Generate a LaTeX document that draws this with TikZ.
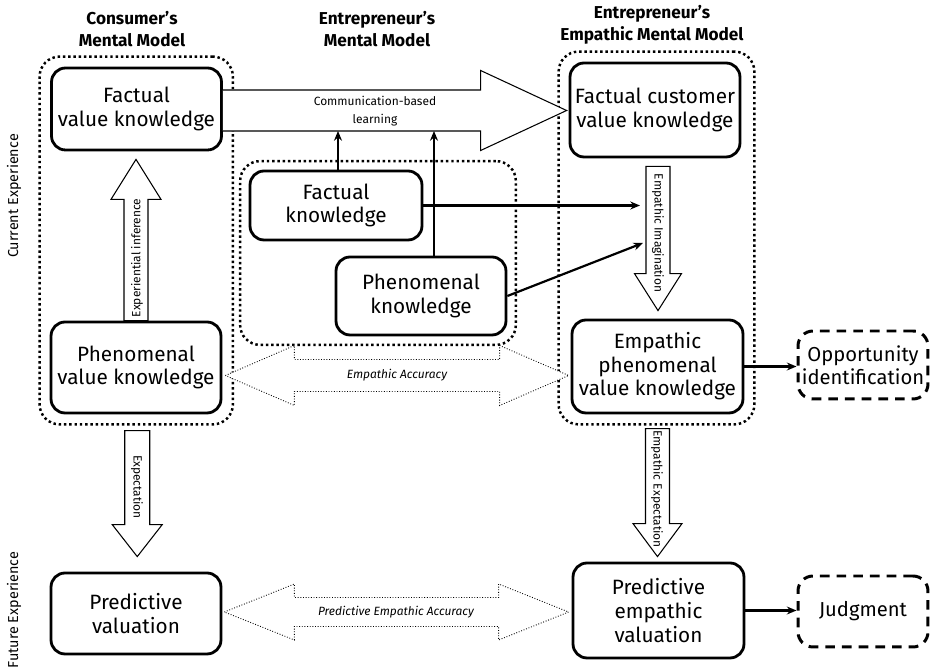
\documentclass[tikz,border=0pt]{standalone}
\usepackage{fontspec}
\setmainfont{Fira Sans}
\usetikzlibrary{arrows.meta,calc,fit}

\newcommand{\fatright}[6][]{%
  \draw[#1] let \p1=(#2), \p2=(#3) in
    (\x1,\y1+#4) -- (\x2-#6,\y1+#4) -- (\x2-#6,\y1+#5) -- (\x2,\y1)
    -- (\x2-#6,\y1-#5) -- (\x2-#6,\y1-#4) -- (\x1,\y1-#4);}
\newcommand{\fatvert}[6][]{%
  \draw[#1] let \p1=(#2), \p2=(#3), \n1={\y2+(#6)} in
    (\x1-#4,\y1) -- (\x1-#4,\n1) -- (\x1-#5,\n1) -- (\x1,\y2)
    -- (\x1+#5,\n1) -- (\x1+#4,\n1) -- (\x1+#4,\y1) -- cycle;}
\newcommand{\fatboth}[6][]{%
  \draw[#1] let \p1=(#2), \p2=(#3) in
    (\x1,\y1) -- (\x1+#6,\y1+#5) -- (\x1+#6,\y1+#4) -- (\x2-#6,\y1+#4)
    -- (\x2-#6,\y1+#5) -- (\x2,\y1) -- (\x2-#6,\y1-#5) -- (\x2-#6,\y1-#4)
    -- (\x1+#6,\y1-#4) -- (\x1+#6,\y1-#5) -- cycle;}

\begin{document}
\begin{tikzpicture}[x=0.02cm,y=-0.02cm,
  box/.style={draw,line width=1.6pt,rounded corners=0.28cm,align=center,
    minimum width=3.4cm,inner sep=0pt,font=\fontsize{11.8}{13.4}\selectfont},
  dashbox/.style={draw,line width=1.7pt,dash pattern=on 5.5pt off 4pt,
    rounded corners=0.3cm,align=center,minimum width=2.6cm,inner sep=0pt,
    font=\fontsize{11.5}{13.3}\selectfont},
  group/.style={draw,line width=1.4pt,dash pattern=on 1.4pt off 1.6pt,
    rounded corners=0.4cm,inner sep=0.2cm},
  head/.style={align=center,font=\fontsize{9.8}{12.5}\selectfont\bfseries},
  side/.style={rotate=90,font=\fontsize{8.2}{10}\selectfont},
  small/.style={align=center,inner sep=0pt,font=\fontsize{6.8}{10}\selectfont},
  blk/.style={line width=0.6pt,fill=white},
  dotarr/.style={line width=0.5pt,densely dotted,fill=white},
  conn/.style={line width=1.25pt,-{Stealth[length=5.5pt,width=4.5pt]}}]
\useasboundingbox (0,0) rectangle (931,668);

\node[head] (hcons) at (132,29) {Consumer’s\\Mental Model};
\node[head] (hentr) at (377,29) {Entrepreneur’s\\Mental Model};
\node[head] (hemp) at (652,25) {Entrepreneur’s\\Empathic Mental Model};
\node[side] (cur) at (14,196) {Current Experience};
\node[side] (fut) at (14,610) {Future Experience};

\node[box,minimum height=1.64cm] (fvk) at (136.5,109) {Factual\\value knowledge};
\node[box,minimum height=1.82cm] (pvk) at (136,367.5) {Phenomenal\\value knowledge};
\node[box,minimum height=1.62cm] (pv) at (136,613.5) {Predictive\\valuation};
\node[box,minimum width=3.44cm,minimum height=1.38cm] (fk) at (336,205.5) {Factual\\knowledge};
\node[box,minimum height=1.56cm] (pk) at (421,296) {Phenomenal\\knowledge};
\node[box,minimum height=1.88cm] (fcvk) at (655,110) {Factual customer\\value knowledge};
\node[box,minimum width=3.42cm,minimum height=1.86cm] (epvk) at (657.5,366.5) {Empathic\\phenomenal\\value knowledge};
\node[box,minimum width=3.42cm,minimum height=1.9cm] (pev) at (658.5,610.5) {Predictive\\empathic\\valuation};
\node[dashbox,minimum height=1.36cm] (opp) at (863,365) {Opportunity\\identification};
\node[dashbox,minimum height=1.42cm] (jud) at (863,611.5) {Judgment};

\node[group,fit=(fvk)(pvk)] (cons) {};
\node[group,inner sep=0.17cm,fit=(fk)(pk)] (entr) {};
\node[group,fit=(fcvk)(epvk)] (emp) {};

\fatright[blk]{$(fvk.east)+(0,1.5)$}{$(fcvk.west)+(-2,0)$}{0.41cm}{0.8cm}{1.72cm}
\fatvert[blk]{pvk.north}{$(fvk.south)+(0,8)$}{0.24cm}{0.5cm}{-0.8cm}
\fatvert[blk]{$(cons.south)+(1,5)$}{$(pv.north)+(0,-15)$}{0.25cm}{0.5cm}{0.64cm}
\fatvert[blk]{$(fcvk.south)+(3,8)$}{$(epvk.north)+(0,-8)$}{0.24cm}{0.47cm}{0.74cm}
\fatvert[blk]{$(emp.south)+(1,3)$}{$(pev.north)+(0,-5)$}{0.24cm}{0.49cm}{0.66cm}
\fatboth[dotarr]{$(pvk.east)+(3,8)$}{$(epvk.west)+(-2,8)$}{0.32cm}{0.6cm}{1.38cm}
\fatboth[dotarr]{$(pv.east)+(2,-1.5)$}{$(pev.west)+(-3,0)$}{0.29cm}{0.56cm}{1.4cm}

\node[small] (comm) at (375,111) {Communication-based\\learning};
\node[small,rotate=90] (expinf) at (137,258) {Experiential inference};
\node[small,rotate=-90] (expect) at (137,487) {Expectation};
\node[small,rotate=-90] (imag) at (658,233) {Empathic Imagination};
\node[small,rotate=-90] (empexp) at (657,489) {Empathic Expectation};
\node[small,font=\fontsize{6.8}{10}\selectfont\itshape] (empacc) at (397,375) {Empathic Accuracy};
\node[small,font=\fontsize{6.8}{10}\selectfont\itshape] (predacc) at (396,612) {Predictive Empathic Accuracy};

\coordinate (commlow) at (380,131);
\coordinate (c1) at ($(fk.north)+(2,0)$);
\coordinate (c2) at ($(pk.north)+(13,0)$);
\coordinate (imgin) at (640,206);
\coordinate (imgin2) at (643,243);
\draw[conn] (c1) -- (c1 |- commlow);
\draw[conn] (c2) -- (c2 |- commlow);
\draw[conn] (fk.east) -- (fk.east -| imgin);
\draw[conn] (pk.east) -- (imgin2);
\draw[conn] (epvk.east) -- (epvk.east -| opp.west);
\draw[conn] (pev.east) -- (pev.east -| jud.west);
\end{tikzpicture}
\end{document}
